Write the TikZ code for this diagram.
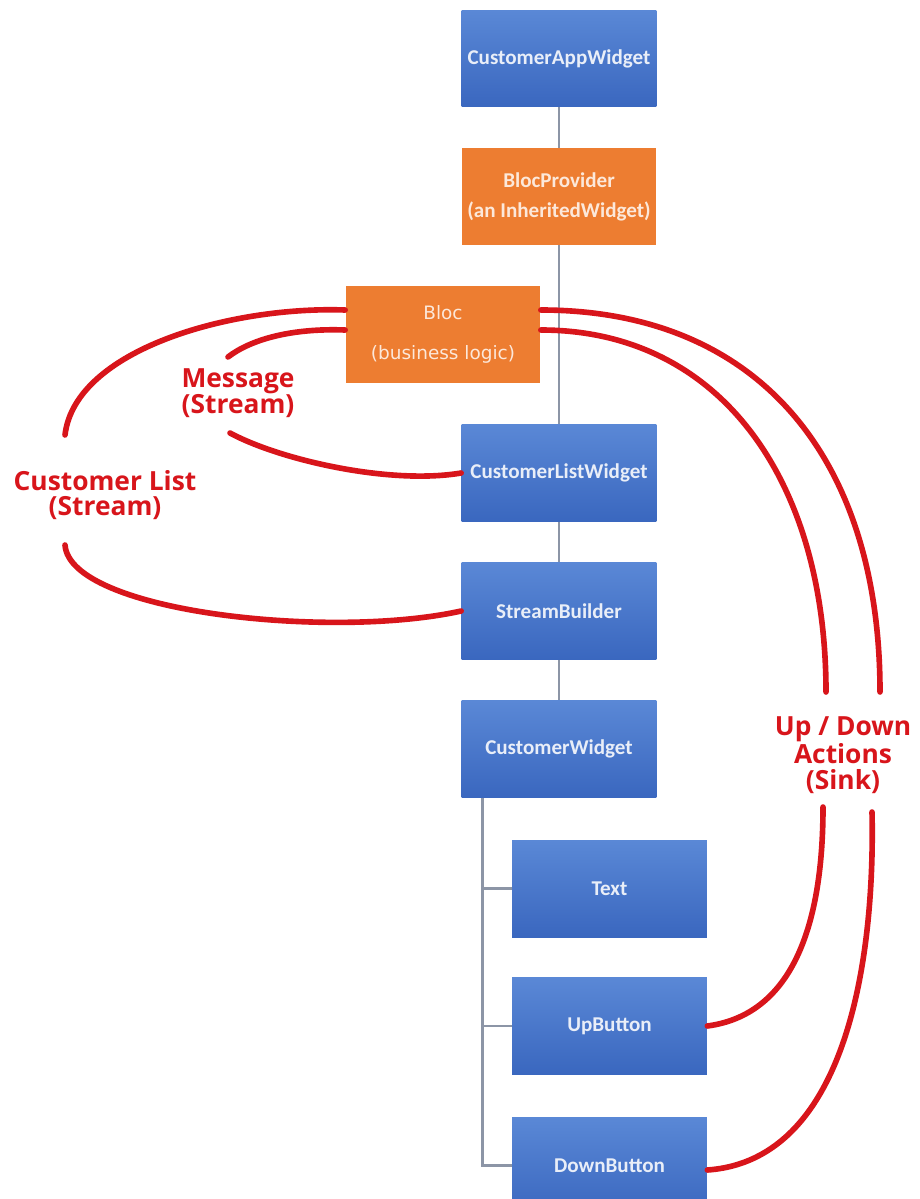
\documentclass[tikz,border=0pt]{standalone}
\usepackage{fontspec}
\setmainfont{Carlito}
\newfontfamily\labelfont{Open Sans}
\newfontfamily\blocfont{DejaVu Sans}
\usetikzlibrary{positioning}
\definecolor{boxblue}{HTML}{4472C4}
\definecolor{boxbluetop}{HTML}{5A88D6}
\definecolor{boxbluebot}{HTML}{3A67BF}
\definecolor{boxorange}{HTML}{ED7D31}
\definecolor{flowred}{HTML}{D8151B}
\definecolor{treegray}{HTML}{8C95A6}

\tikzset{
  box/.style={rectangle, minimum width=3.9cm, minimum height=1.94cm,
    inner sep=0pt, align=center},
  widget/.style={box, top color=boxbluetop, bottom color=boxbluebot,
    text=white!88!boxblue, font=\bfseries\fontsize{12}{14}\selectfont},
  logic/.style={box, fill=boxorange, text=white!82!boxorange,
    font=\bfseries\fontsize{12}{17}\selectfont},
  treeline/.style={draw=treegray, line width=1.6pt},
  flow/.style={draw=flowred, line width=3.2pt, line cap=round},
  flowlabel/.style={text=flowred, align=center,
    font=\labelfont\bfseries\fontsize{15}{14.5}\selectfont}
}

\begin{document}
\begin{tikzpicture}[x=0.02cm, y=-0.02cm]
\useasboundingbox (0,0) rectangle (919,1199);
\fill[white] (0,0) rectangle (919,1199);
\clip (0,0) rectangle (919,1199);

% --- widget tree ---
\node[widget] (app)  at (559,58.5)  {CustomerAppWidget};
\node[logic]  (prov) at (559,196.5) {BlocProvider\\(an InheritedWidget)};
\node[logic, font=\blocfont\fontsize{10.5}{23}\selectfont]
              (bloc) at (443,334.5) {Bloc\\(business logic)};
\node[widget] (list) at (559,473)   {CustomerListWidget};
\node[widget] (sb)   at (559,611)   {StreamBuilder};
\node[widget] (cw)   at (559,749)   {CustomerWidget};
\node[widget] (txt)  at (609.5,888.5) {Text};
\node[widget] (up)   at (609.5,1026)  {UpButton};
\node[widget] (down) at (609.5,1165.5) {DownButton};

% --- gray connectors ---
\draw[treeline] (app) -- (prov);
\draw[treeline] (prov) -- (list);
\draw[treeline] (list) -- (sb);
\draw[treeline] (sb) -- (cw);
\coordinate (trunk) at ([xshift=0.42cm]cw.south west);
\draw[treeline] (trunk) |- (txt.west);
\draw[treeline] (trunk) |- (up.west);
\draw[treeline] (trunk) |- (down.west);

% --- stream / sink labels ---
\node[flowlabel] (cl)   at (105,495) {Customer List\\(Stream)};
\node[flowlabel] (msg)  at (238,393) {Message\\(Stream)};
\node[flowlabel] (sink) at (843,755) {Up / Down\\Actions\\(Sink)};

% free ends of the red curves
\coordinate (clTop)  at (65,435);
\coordinate (clBot)  at (65,545);
\coordinate (msgTop) at (228,357);
\coordinate (msgBot) at (230,433);
\coordinate (upTop)  at (826,692);
\coordinate (dnTop)  at (880,692);
\coordinate (upBot)  at (823,807);
\coordinate (dnBot)  at (872,812);

% --- red flows ---
% Customer List
\draw[flow] ([yshift=0.49cm]bloc.west) .. controls (230,306) and (75,350) .. (clTop);
\draw[flow] (clBot) .. controls (70,612) and (330,640) .. (sb.west);
% Message
\draw[flow] ([yshift=0.09cm]bloc.west) .. controls (290,328) and (250,340) .. (msgTop);
\draw[flow] (msgBot) .. controls (280,460) and (390,485) .. (list.west);
% Up / Down actions
\draw[flow] ([yshift=0.49cm]bloc.east) .. controls (760,310) and (880,460) .. (dnTop);
\draw[flow] ([yshift=0.09cm]bloc.east) .. controls (720,330) and (826,480) .. (upTop);
\draw[flow] (up.east) .. controls (790,1015) and (823,930) .. (upBot);
\draw[flow] ([yshift=-0.09cm]down.east) .. controls (850,1160) and (875,950) .. (dnBot);

\end{tikzpicture}
\end{document}
